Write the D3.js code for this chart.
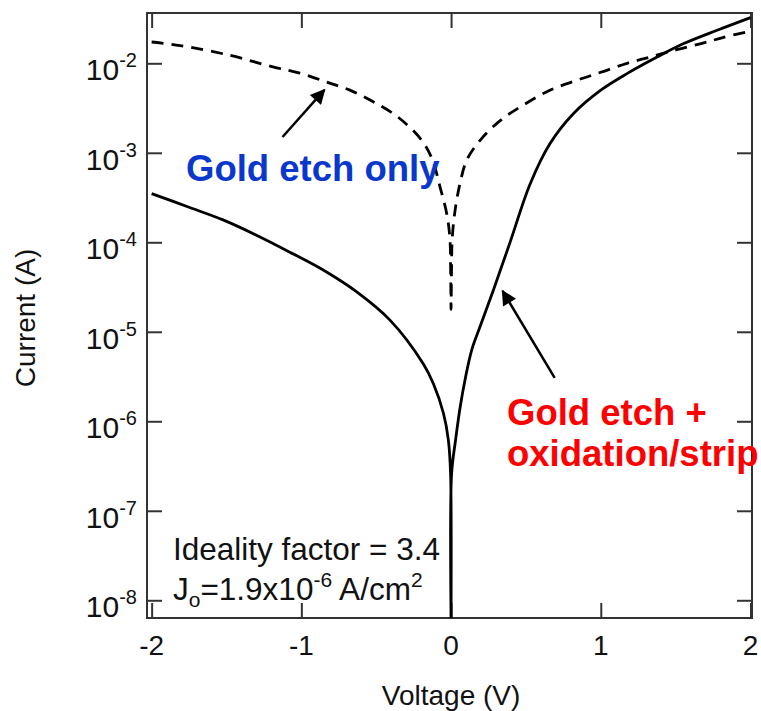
<!DOCTYPE html>
<html>
<head>
<meta charset="utf-8">
<script src="https://cdn.jsdelivr.net/npm/d3@7"></script>
<style>
  html, body { margin: 0; padding: 0; background: #fff; }
  svg { display: block; font-family: "Liberation Sans", Arial, sans-serif; }
</style>
</head>
<body>
<svg id="chart" width="761" height="711"></svg>
<script>
// I–V sweep, gold etch only (dashed)
const etchVoltage = [-2.0, -1.81, -1.48, -1.19, -1.01, -0.83, -0.676, -0.52, -0.355, -0.196, -0.124, -0.074, -0.029, -0.008, -0.003, 0.0,
  0.003, 0.008, 0.027, 0.06, 0.105, 0.194, 0.328, 0.48, 0.66, 0.84, 1.0, 1.175, 1.33, 1.49, 1.67, 1.82, 2.0];
const etchCurrent = [0.0173, 0.0158, 0.0123, 0.00912, 0.00776, 0.00617, 0.00501, 0.00372, 0.00251, 0.00138, 8.3e-4, 4.17e-4, 2.09e-4, 1.12e-4, 5.0e-5, 1.78e-5,
  5.0e-5, 1.12e-4, 2.29e-4, 4.57e-4, 8.3e-4, 1.38e-3, 2.29e-3, 3.39e-3, 5.0e-3, 6.46e-3, 7.94e-3, 0.0100, 0.01175, 0.01396, 0.0166, 0.0195, 0.0229];

// I–V sweep, gold etch + oxidation/strip (solid)
const stripVoltage = [-2.0, -1.746, -1.523, -1.30, -1.077, -0.854, -0.63, -0.408, -0.185, -0.118, -0.051, -0.018, -0.003, 0.0,
  0.003, 0.03, 0.063, 0.097, 0.14, 0.2, 0.283, 0.395, 0.528, 0.66, 0.818, 1.0, 1.175, 1.376, 1.554, 1.777, 2.0];
const stripCurrent = [3.50e-4, 2.45e-4, 1.78e-4, 1.20e-4, 7.76e-5, 4.90e-5, 2.79e-5, 1.35e-5, 4.37e-6, 2.63e-6, 1.23e-6, 6.17e-7, 2.51e-7, 5.0e-9,
  2.51e-7, 6.17e-7, 1.52e-6, 3.13e-6, 6.46e-6, 1.22e-5, 2.93e-5, 1.01e-4, 4.48e-4, 1.26e-3, 2.75e-3, 5.01e-3, 7.67e-3, 0.01175, 0.0166, 0.0234, 0.0324];

// Axis ticks
const xTicks = [-2, -1, 0, 1, 2];
const xTickLabels = ["-2", "-1", "0", "1", "2"];
const yTickExponents = [-2, -3, -4, -5, -6, -7, -8];

const svg = d3.select("#chart");
const plot = { left: 147, right: 752, top: 13, bottom: 618 };

const x = d3.scaleLinear().domain([-2.031, 2.01]).range([plot.left, plot.right]);
const y = d3.scaleLog().domain([Math.pow(10, -8.198), Math.pow(10, -1.438)]).range([plot.bottom, plot.top]);

const defs = svg.append("defs");
defs.append("clipPath").attr("id", "plotClip")
  .append("rect")
  .attr("x", plot.left).attr("y", plot.top)
  .attr("width", plot.right - plot.left).attr("height", plot.bottom - plot.top);

const tickLen = 15;
const axisColor = "#333";

// inward ticks on all four sides
const yTickVals = yTickExponents.map(e => Math.pow(10, e));
const axes = [
  { gen: d3.axisBottom(x).tickValues(xTicks), t: `translate(0,${plot.bottom})` },
  { gen: d3.axisTop(x).tickValues(xTicks), t: `translate(0,${plot.top})` },
  { gen: d3.axisLeft(y).tickValues(yTickVals), t: `translate(${plot.left},0)` },
  { gen: d3.axisRight(y).tickValues(yTickVals), t: `translate(${plot.right},0)` }
];
axes.forEach(a => {
  const g = svg.append("g").attr("transform", a.t)
    .call(a.gen.tickSizeInner(-tickLen).tickSizeOuter(0).tickFormat(() => ""));
  g.select(".domain").remove();
  g.selectAll(".tick line").attr("stroke", axisColor).attr("stroke-width", 2);
  g.selectAll(".tick text").remove();
});

// frame
svg.append("rect")
  .attr("x", plot.left).attr("y", plot.top)
  .attr("width", plot.right - plot.left).attr("height", plot.bottom - plot.top)
  .attr("fill", "none").attr("stroke", axisColor).attr("stroke-width", 2);

// x tick labels
svg.append("g").selectAll("text").data(xTicks).join("text")
  .attr("x", d => x(d)).attr("y", plot.bottom + 37)
  .attr("text-anchor", "middle").attr("font-size", 28).attr("fill", "#111")
  .text((d, i) => xTickLabels[i]);

// y tick labels: 10 with superscript exponent
const yl = svg.append("g").selectAll("text").data(yTickExponents).join("text")
  .attr("x", 137).attr("y", d => y(Math.pow(10, d)) + 17)
  .attr("text-anchor", "end").attr("font-size", 30).attr("fill", "#111");
yl.append("tspan").text("10");
yl.append("tspan").attr("dy", -13).attr("font-size", 20).text(d => String(d));

// axis titles
svg.append("text")
  .attr("x", (x(-2) + x(2)) / 2).attr("y", 705)
  .attr("text-anchor", "middle").attr("font-size", 28).attr("fill", "#111")
  .text("Voltage (V)");
svg.append("text")
  .attr("transform", `translate(35,318) rotate(-90)`)
  .attr("text-anchor", "middle").attr("font-size", 28).attr("fill", "#111")
  .text("Current (A)");

// curves
const line = d3.line()
  .x(d => x(d[0])).y(d => y(d[1]))
  .curve(d3.curveCatmullRom.alpha(0.5));

const curves = svg.append("g").attr("clip-path", "url(#plotClip)");
curves.append("path")
  .datum(d3.zip(etchVoltage, etchCurrent))
  .attr("d", line)
  .attr("fill", "none").attr("stroke", "#000").attr("stroke-width", 2.8)
  .attr("stroke-dasharray", "12,8");
curves.append("path")
  .datum(d3.zip(stripVoltage, stripCurrent))
  .attr("d", line)
  .attr("fill", "none").attr("stroke", "#000").attr("stroke-width", 2.8);

// arrows
defs.append("marker")
  .attr("id", "arrowHead").attr("viewBox", "0 0 10 10")
  .attr("refX", 9).attr("refY", 5)
  .attr("markerWidth", 6.5).attr("markerHeight", 6)
  .attr("markerUnits", "strokeWidth")
  .attr("orient", "auto")
  .append("path").attr("d", "M0,0 L10,5 L0,10 Z").attr("fill", "#000");

function arrow(v0, i0, v1, i1) {
  svg.append("line")
    .attr("x1", x(v0)).attr("y1", y(i0)).attr("x2", x(v1)).attr("y2", y(i1))
    .attr("stroke", "#000").attr("stroke-width", 2.5)
    .attr("marker-end", "url(#arrowHead)");
}
// pointing at the etch-only curve and at the etch + strip curve
arrow(-1.126, 1.50e-3, -0.846, 5.04e-3);
arrow(0.692, 3.05e-6, 0.344, 2.86e-5);

// curve labels
svg.append("text")
  .attr("x", 186).attr("y", 181)
  .attr("font-size", 36.5).attr("font-weight", "bold").attr("fill", "#0a38cc")
  .text("Gold etch only");
const red = svg.append("text")
  .attr("font-size", 36.5).attr("font-weight", "bold").attr("fill", "#ff0000");
red.append("tspan").attr("x", 507).attr("y", 425).text("Gold etch +");
red.append("tspan").attr("x", 507).attr("y", 466).text("oxidation/strip");

// fit parameters
svg.append("text")
  .attr("x", 173).attr("y", 560)
  .attr("font-size", 31.5).attr("fill", "#111")
  .text("Ideality factor = 3.4");
const jo = svg.append("text")
  .attr("x", 173).attr("y", 600)
  .attr("font-size", 31.5).attr("fill", "#111");
jo.append("tspan").text("J");
jo.append("tspan").attr("dy", 7).attr("font-size", 21).text("o");
jo.append("tspan").attr("dy", -7).text("=1.9x10");
jo.append("tspan").attr("dy", -13).attr("font-size", 21).text("-6");
jo.append("tspan").attr("dy", 13).text(" A/cm");
jo.append("tspan").attr("dy", -13).attr("font-size", 21).text("2");
</script>
</body>
</html>
